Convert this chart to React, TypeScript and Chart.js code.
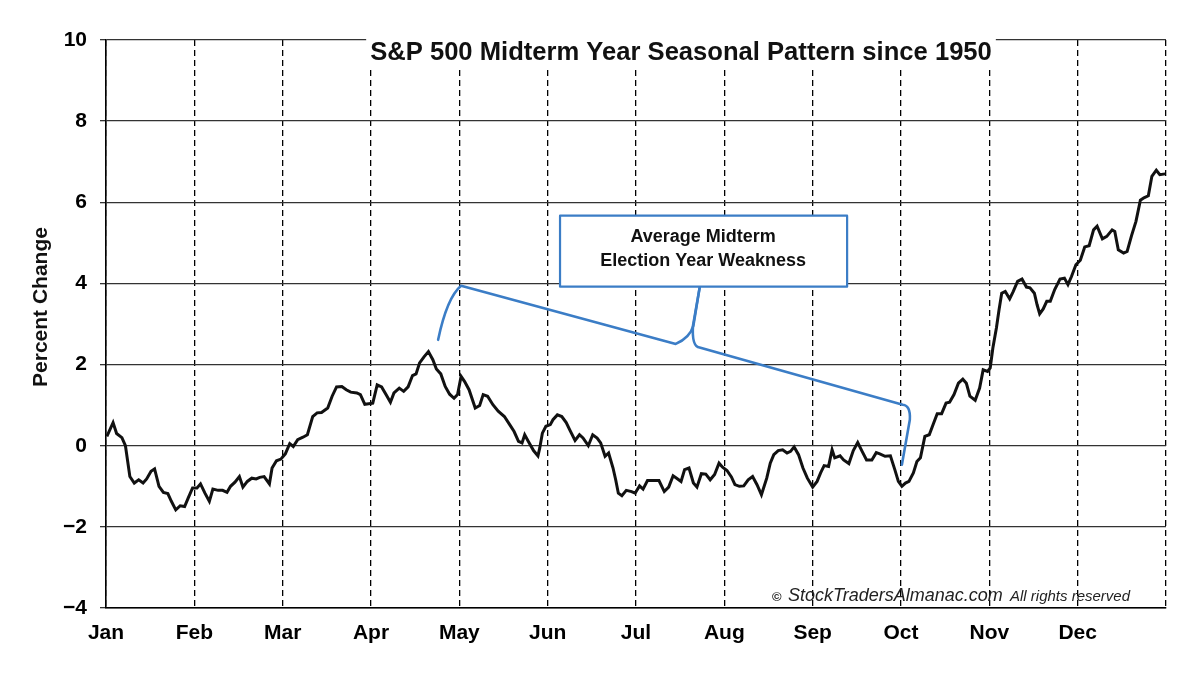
import { useEffect, useRef } from "react";
import { Chart, registerables } from "chart.js";

Chart.register(...registerables);

const FONT = "'Liberation Sans', Arial, Helvetica, sans-serif";

const MONTHS = ["Jan", "Feb", "Mar", "Apr", "May", "Jun", "Jul", "Aug", "Sep", "Oct", "Nov", "Dec"];
const Y_MIN = -4;
const Y_MAX = 10;
const Y_STEP = 2;

const TITLE = "S&P 500 Midterm Year Seasonal Pattern since 1950";
const Y_TITLE = "Percent Change";
const CALLOUT_LINES = ["Average Midterm", "Election Year Weakness"];

// position in months from Jan 1 (0 = Jan 1, 12 = Dec 31)
const h1Pos = [
  0.01, 0.08, 0.12, 0.18, 0.22, 0.27, 0.32, 0.37, 0.42, 0.46, 0.51, 0.55, 0.6, 0.65, 0.7, 0.74, 0.79, 0.84, 0.89,
  0.93, 0.98, 1.03, 1.07, 1.12, 1.17, 1.21, 1.27, 1.32, 1.37, 1.41, 1.46, 1.51, 1.55, 1.6, 1.65, 1.7, 1.74, 1.79,
  1.85, 1.88, 1.93, 1.98, 2.03, 2.08, 2.12, 2.17, 2.23, 2.28, 2.34, 2.39, 2.44, 2.51, 2.56, 2.61, 2.67, 2.72, 2.77,
  2.84, 2.88, 2.93, 3.02, 3.07, 3.12, 3.17, 3.22, 3.26, 3.32, 3.37, 3.42, 3.47, 3.51, 3.55, 3.6, 3.65, 3.7, 3.74,
  3.79, 3.84, 3.89, 3.94, 3.98, 4.02, 4.06, 4.11, 4.18, 4.23, 4.27, 4.32, 4.38, 4.44, 4.51, 4.57, 4.62, 4.67, 4.71,
  4.74, 4.78, 4.84, 4.89, 4.91, 4.94, 4.98, 5.03, 5.06, 5.11, 5.16, 5.21, 5.25, 5.31, 5.36, 5.4, 5.46, 5.51, 5.56,
  5.6, 5.65, 5.69, 5.74, 5.77, 5.8, 5.84, 5.89, 5.95, 5.99,
];
// percent change
const h1Pct = [
  0.23, 0.57, 0.3, 0.2, 0.0, -0.76, -0.92, -0.84, -0.92, -0.82, -0.63, -0.57, -1.0, -1.15, -1.18, -1.37, -1.58, -1.48,
  -1.5, -1.29, -1.04, -1.04, -0.94, -1.17, -1.37, -1.07, -1.1, -1.1, -1.15, -1.0, -0.9, -0.76, -1.02, -0.88, -0.8,
  -0.82, -0.78, -0.76, -0.94, -0.55, -0.37, -0.33, -0.2, 0.05, -0.02, 0.15, 0.21, 0.27, 0.72, 0.81, 0.82, 0.93, 1.22,
  1.45, 1.46, 1.38, 1.32, 1.3, 1.26, 1.02, 1.05, 1.5, 1.45, 1.26, 1.07, 1.3, 1.42, 1.34, 1.45, 1.73, 1.77, 2.04, 2.19,
  2.32, 2.12, 1.89, 1.77, 1.46, 1.27, 1.17, 1.26, 1.71, 1.58, 1.38, 0.93, 0.99, 1.26, 1.22, 1.01, 0.85, 0.72, 0.52,
  0.35, 0.11, 0.07, 0.27, 0.11, -0.12, -0.25, -0.06, 0.31, 0.48, 0.52, 0.64, 0.76, 0.72, 0.57, 0.39, 0.13, 0.27, 0.19,
  0.0, 0.27, 0.19, 0.07, -0.26, -0.18, -0.55, -0.84, -1.17, -1.23, -1.1, -1.13, -1.17,
];
const h2Pos = [
  6.04, 6.08, 6.13, 6.2, 6.26, 6.32, 6.37, 6.42, 6.46, 6.51, 6.55, 6.6, 6.65, 6.69, 6.74, 6.79, 6.84, 6.89, 6.94,
  6.98, 7.03, 7.08, 7.12, 7.17, 7.22, 7.27, 7.32, 7.37, 7.42, 7.48, 7.52, 7.56, 7.61, 7.66, 7.71, 7.75, 7.79, 7.84,
  7.89, 7.94, 8.0, 8.05, 8.09, 8.13, 8.18, 8.22, 8.25, 8.31, 8.35, 8.41, 8.46, 8.51, 8.56, 8.61, 8.67, 8.72, 8.76,
  8.82, 8.88, 8.93, 8.97, 9.01, 9.05, 9.09, 9.14, 9.18, 9.22, 9.27, 9.32, 9.37, 9.41, 9.46, 9.51, 9.55, 9.6, 9.65,
  9.7, 9.74, 9.78, 9.84, 9.89, 9.93, 9.98, 10.01, 10.04, 10.08, 10.11, 10.14, 10.18, 10.23, 10.27, 10.32, 10.37,
  10.42, 10.46, 10.51, 10.54, 10.57, 10.61, 10.65, 10.69, 10.74, 10.8, 10.85, 10.89, 10.93, 10.98, 11.03, 11.08,
  11.13, 11.18, 11.22, 11.28, 11.33, 11.39, 11.42, 11.46, 11.52, 11.56, 11.61, 11.66, 11.71, 11.75, 11.8, 11.84,
  11.89, 11.93, 11.99,
];
const h2Pct = [
  -0.99, -1.07, -0.86, -0.86, -0.86, -1.13, -1.02, -0.74, -0.8, -0.88, -0.59, -0.55, -0.92, -1.02, -0.69, -0.7, -0.84,
  -0.71, -0.43, -0.53, -0.61, -0.77, -0.96, -1.0, -0.99, -0.84, -0.76, -0.96, -1.21, -0.8, -0.43, -0.22, -0.12, -0.1,
  -0.18, -0.14, -0.03, -0.22, -0.55, -0.8, -1.02, -0.88, -0.67, -0.49, -0.51, -0.1, -0.3, -0.25, -0.35, -0.44, -0.12,
  0.08, -0.14, -0.35, -0.35, -0.17, -0.2, -0.26, -0.25, -0.59, -0.88, -1.0, -0.92, -0.88, -0.67, -0.39, -0.3, 0.23,
  0.27, 0.56, 0.79, 0.79, 1.05, 1.07, 1.26, 1.54, 1.64, 1.54, 1.22, 1.12, 1.42, 1.87, 1.83, 1.92, 2.41, 2.9, 3.35,
  3.76, 3.8, 3.62, 3.8, 4.05, 4.11, 3.91, 3.89, 3.76, 3.48, 3.25, 3.37, 3.56, 3.56, 3.85, 4.11, 4.13, 3.97, 4.17, 4.46,
  4.57, 4.9, 4.93, 5.32, 5.41, 5.1, 5.16, 5.32, 5.28, 4.83, 4.75, 4.79, 5.18, 5.53, 6.05, 6.11, 6.16, 6.64, 6.79, 6.68,
  6.7,
];

// Annotation brace anchors in data units [month, percent]
const braceLeft = [
  [3.76, 2.61], // start
  [3.86, 3.65], // curve control
  [4.02, 3.94], // corner
  [6.45, 2.51], // middle left
  [6.61, 2.66], // curve control
  [6.65, 2.96],
  [6.72, 3.89], // tip at box
];
const braceRight = [
  [6.72, 3.89],
  [6.645, 2.96],
  [6.63, 2.44], // control
  [6.72, 2.42],
  [9.02, 1.01],
  [9.11, 0.99], // control
  [9.1, 0.64],
  [9.01, -0.47],
];
const calloutBox = { x0: 5.14, x1: 8.39, yTop: 5.67, yBottom: 3.92 };
const calloutText = { x: 6.76, y1: 5.15, y2: 4.56 };

const BLUE = "#3B7DC6";

const annotationPlugin = {
  id: "annotations",
  afterDatasetsDraw(chart: any) {
    const { ctx, scales } = chart;
    const xs = scales.x;
    const ys = scales.y;
    const P = (p: number[]) => [xs.getPixelForValue(p[0]), ys.getPixelForValue(p[1])];
    ctx.save();
    ctx.strokeStyle = BLUE;
    ctx.lineWidth = 2.6;
    ctx.lineJoin = "round";
    ctx.lineCap = "round";
    const L = braceLeft.map(P);
    ctx.beginPath();
    ctx.moveTo(L[0][0], L[0][1]);
    ctx.quadraticCurveTo(L[1][0], L[1][1], L[2][0], L[2][1]);
    ctx.lineTo(L[3][0], L[3][1]);
    ctx.quadraticCurveTo(L[4][0], L[4][1], L[5][0], L[5][1]);
    ctx.lineTo(L[6][0], L[6][1]);
    ctx.stroke();
    const R = braceRight.map(P);
    ctx.beginPath();
    ctx.moveTo(R[0][0], R[0][1]);
    ctx.lineTo(R[1][0], R[1][1]);
    ctx.quadraticCurveTo(R[2][0], R[2][1], R[3][0], R[3][1]);
    ctx.lineTo(R[4][0], R[4][1]);
    ctx.quadraticCurveTo(R[5][0], R[5][1], R[6][0], R[6][1]);
    ctx.lineTo(R[7][0], R[7][1]);
    ctx.stroke();

    const bx0 = xs.getPixelForValue(calloutBox.x0);
    const bx1 = xs.getPixelForValue(calloutBox.x1);
    const by0 = ys.getPixelForValue(calloutBox.yTop);
    const by1 = ys.getPixelForValue(calloutBox.yBottom);
    ctx.fillStyle = "#ffffff";
    ctx.fillRect(bx0, by0, bx1 - bx0, by1 - by0);
    ctx.lineWidth = 2.2;
    ctx.strokeRect(bx0, by0, bx1 - bx0, by1 - by0);
    ctx.fillStyle = "#111";
    ctx.font = `bold 18px ${FONT}`;
    ctx.textAlign = "center";
    ctx.textBaseline = "middle";
    const tx = xs.getPixelForValue(calloutText.x);
    ctx.fillText(CALLOUT_LINES[0], tx, ys.getPixelForValue(calloutText.y1));
    ctx.fillText(CALLOUT_LINES[1], tx, ys.getPixelForValue(calloutText.y2));
    ctx.restore();
  },
  afterDraw(chart: any) {
    const { ctx } = chart;
    ctx.save();
    ctx.font = `bold 25.6px ${FONT}`;
    const tw = ctx.measureText(TITLE).width;
    const cx = 681;
    ctx.fillStyle = "#ffffff";
    ctx.fillRect(cx - tw / 2 - 4, 30, tw + 8, 38);
    ctx.fillStyle = "#111";
    ctx.textAlign = "center";
    ctx.textBaseline = "alphabetic";
    ctx.fillText(TITLE, cx, 60);

    ctx.save();
    ctx.translate(41, 307);
    ctx.rotate(-Math.PI / 2);
    ctx.font = `bold 21px ${FONT}`;
    ctx.textAlign = "center";
    ctx.textBaseline = "middle";
    ctx.fillText(Y_TITLE, 0, 0);
    ctx.restore();

    ctx.fillStyle = "#222";
    ctx.textAlign = "left";
    ctx.textBaseline = "alphabetic";
    ctx.font = `bold 13px ${FONT}`;
    ctx.fillText("\u00A9", 772, 601);
    ctx.font = `italic 18px ${FONT}`;
    ctx.fillText("StockTradersAlmanac.com", 788, 601);
    ctx.font = `italic 15px ${FONT}`;
    ctx.fillText("All rights reserved", 1010, 601);
    ctx.restore();
  },
};

export default function App() {
  const ref = useRef<HTMLCanvasElement | null>(null);
  useEffect(() => {
    document.body.style.margin = "0";
    const canvas = ref.current;
    if (!canvas) return;
    const points = [
      ...h1Pos.map((x, i) => ({ x, y: h1Pct[i] })),
      ...h2Pos.map((x, i) => ({ x, y: h2Pct[i] })),
    ];
    const chart = new Chart(canvas, {
      type: "line",
      data: {
        datasets: [
          {
            data: points,
            borderColor: "#111",
            borderWidth: 3,
            pointRadius: 0,
            tension: 0,
            fill: false,
          },
        ],
      },
      options: {
        responsive: false,
        animation: false,
        devicePixelRatio: 1,
        layout: { padding: { top: 40, right: 34, left: 0, bottom: 0 } },
        plugins: {
          legend: { display: false },
          tooltip: { enabled: false },
          title: { display: false },
        },
        scales: {
          x: {
            type: "linear",
            min: 0,
            max: 12,
            afterBuildTicks: (s: any) => {
              s.ticks = MONTHS.map((_, i) => ({ value: i })).concat([{ value: 12 }]);
            },
            afterFit: (s: any) => {
              s.height = 66;
            },
            ticks: {
              autoSkip: false,
              maxRotation: 0,
              padding: 13,
              color: "#000",
              font: { family: FONT, size: 21, weight: "bold" },
              callback: (v: any) => MONTHS[v] ?? "",
            },
            grid: { color: "#000", lineWidth: 1.3, drawTicks: false },
            border: { display: true, color: "#000", width: 1.6, dash: [6, 4] },
          },
          y: {
            min: Y_MIN,
            max: Y_MAX,
            afterFit: (s: any) => {
              s.width = 106;
            },
            ticks: {
              stepSize: Y_STEP,
              padding: 13,
              color: "#000",
              font: { family: FONT, size: 21, weight: "bold" },
              callback: (v: any) => (v < 0 ? "\u2212" + Math.abs(v) : String(v)),
            },
            grid: { color: "#333", lineWidth: 1.3, tickLength: 6 },
            border: { display: true, color: "#000", width: 1.6 },
          },
        },
      },
      plugins: [annotationPlugin],
    } as any);
    return () => chart.destroy();
  }, []);
  return (
    <div style={{ width: 1200, height: 674, background: "#fff" }}>
      <canvas ref={ref} width={1200} height={674} style={{ display: "block" }} />
    </div>
  );
}
